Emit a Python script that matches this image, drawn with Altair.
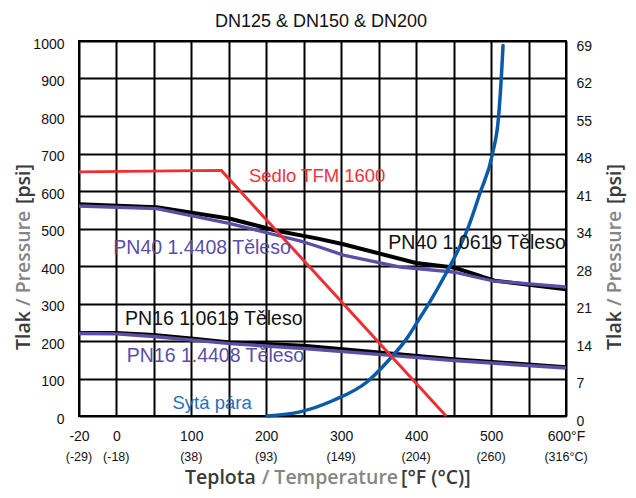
import altair as alt
import pandas as pd

# ---------------- data ----------------
x_grid_values = [-20, 0, 50, 100, 150, 200, 250, 300, 350, 400, 450, 500, 550, 600]
x_label_values = [-20, 0, 100, 200, 300, 400, 500, 600]
x_label_texts = ["-20", "0", "100", "200", "300", "400", "500", "600°F"]
celsius_labels = ["(-29)", "(-18)", "(38)", "(93)", "(149)", "(204)", "(260)", "(316°C)"]
y_values = [0, 100, 200, 300, 400, 500, 600, 700, 800, 900, 1000]
bar_labels = ["0", "7", "14", "21", "28", "34", "41", "48", "55", "62", "69"]

red_F = [-20, 140, 440]
red_psi = [651, 655, 0]

pn40_10619_F = [-20, 54, 152, 214, 269, 303, 400, 450, 474, 490, 505, 600]
pn40_10619_psi = [565, 557, 526, 494, 473, 458, 408, 396, 381, 370, 361, 338]

pn40_14408_F = [-20, 54, 152, 214, 245, 269, 303, 379, 450, 476, 503, 600]
pn40_14408_psi = [560, 553, 513, 482, 467, 452, 429, 397, 384, 372, 360, 344]

pn16_10619_F = [-20, 0, 50, 103, 152, 250, 358, 450, 600]
pn16_10619_psi = [222, 222, 217, 207, 197, 188, 169, 152, 131]

pn16_14408_F = [-20, 0, 50, 152, 250, 358, 450, 600]
pn16_14408_psi = [220, 219, 212, 193, 180, 163, 148, 128]

steam_F = [201, 245, 290, 334, 364, 387, 403, 418, 436, 456, 468, 485, 502, 510, 514, 516]
steam_psi = [0, 11, 42, 90, 150, 205, 255, 303, 366, 442, 495, 593, 700, 797, 913, 988]

note_texts = ["Sedlo TFM 1600", "PN40 1.0619 Těleso", "PN40 1.4408 Těleso",
              "PN16 1.0619 Těleso", "PN16 1.4408 Těleso", "Sytá pára"]
note_F = [177, 363, -1.6, 11.7, 13.9, 75]
note_psi = [624, 446, 433, 242, 144, 20]
note_colors = ["#ee3338", "#111111", "#5a4ea5", "#111111", "#5a4ea5", "#2a6ebe"]
note_sizes = [18.5, 19.5, 19.5, 19.5, 19.5, 18.5]

RED = "#ee3035"
PURPLE = "#5a4ea5"
BLUE = "#0a5aaa"
DARK = "#3a3a3a"
GRAY = "#858585"
FONT = "Liberation Sans"
TFONT = "Open Sans"

W, H = 487, 375

# ---------------- scales / axes ----------------
xscale = alt.Scale(domain=[-20, 0, 600], range=[0, 37.3, W], nice=False, zero=False)
yscale = alt.Scale(domain=[0, 1000], nice=False, zero=False)

lbl_vals = "[" + ",".join(str(v) for v in x_label_values) + "]"
lbl_txts = "[" + ",".join("'" + t + "'" for t in x_label_texts) + "]"
xaxis = alt.Axis(
    values=x_grid_values, grid=True, gridColor="black", gridWidth=2, gridOpacity=1,
    domain=False, ticks=False, tickSize=0, title=None,
    labelExpr=f"indexof({lbl_vals}, datum.value) >= 0 ? {lbl_txts}[indexof({lbl_vals}, datum.value)] : ''",
    labelFont=FONT, labelFontSize=14, labelColor="#111111", labelPadding=13,
    labelFlush=False, labelOverlap=False,
)
X = alt.X("F:Q", scale=xscale, axis=xaxis)

yaxis_left = alt.Axis(
    values=y_values, grid=True, gridColor="black", gridWidth=2, gridOpacity=1,
    domain=False, ticks=False, tickSize=0, title=None, orient="left", format="d",
    labelFont=FONT, labelFontSize=14, labelColor="#111111", labelPadding=15,
    labelOffset=3, labelFlush=False, labelOverlap=False,
)
bar_arr = "[" + ",".join("'" + b + "'" for b in bar_labels) + "]"
yaxis_right = alt.Axis(
    values=y_values, grid=False, domain=False, ticks=False, tickSize=0, title=None,
    orient="right", labelExpr=f"{bar_arr}[round(datum.value/100)]",
    labelFont=FONT, labelFontSize=14, labelColor="#111111", labelPadding=10,
    labelOffset=5, labelFlush=False, labelOverlap=False,
)


def line_layer(F, psi, color, width, axis=None, interp="linear", cap="butt"):
    df = pd.DataFrame({"F": F, "psi": psi})
    return alt.Chart(df).mark_line(
        color=color, strokeWidth=width, interpolate=interp, strokeCap=cap, strokeJoin="round"
    ).encode(x=X, y=alt.Y("psi:Q", scale=yscale, axis=axis))


l_pn40b = line_layer(pn40_10619_F, pn40_10619_psi, "#000000", 4, axis=yaxis_left)
l_pn40p = line_layer(pn40_14408_F, pn40_14408_psi, PURPLE, 3.3, axis=yaxis_right)
l_pn16b = line_layer(pn16_10619_F, pn16_10619_psi, "#000000", 3.5)
l_pn16p = line_layer(pn16_14408_F, pn16_14408_psi, PURPLE, 3.5)
l_steam = line_layer(steam_F, steam_psi, BLUE, 3.5, interp="monotone", cap="round")
l_red = line_layer(red_F, red_psi, RED, 3)

notes_df = pd.DataFrame({"F": note_F, "psi": note_psi, "t": note_texts,
                         "c": note_colors, "s": note_sizes})
notes = alt.Chart(notes_df).mark_text(
    font=FONT, align="left", baseline="alphabetic"
).encode(
    x=X, y=alt.Y("psi:Q", scale=yscale, axis=None), text="t:N",
    color=alt.Color("c:N", scale=None),
    size=alt.Size("s:Q", scale=None),
)

cel_df = pd.DataFrame({"F": x_label_values, "t": celsius_labels})
celsius = alt.Chart(cel_df).mark_text(
    font=FONT, fontSize=12.5, align="center", baseline="alphabetic", color="#111111"
).encode(x=X, y=alt.value(420), text="t:N")


def label(txt, x, y, color, size, font=TFONT, weight=600, angle=0, align="left"):
    return alt.Chart(pd.DataFrame({"t": [txt]})).mark_text(
        font=font, fontSize=size, fontWeight=weight, color=color, align=align,
        baseline="alphabetic", angle=angle,
    ).encode(x=alt.value(x), y=alt.value(y), text="t:N")


title = label("DN125 & DN150 & DN200", 242, -14, "#111111", 18, font=FONT, weight=400, align="center")

texts = [title]
for xb in (-49, 542):
    texts += [
        label("Tlak", xb, 309, DARK, 19.5, angle=270),
        label("/ Pressure", xb, 265, GRAY, 19.5, angle=270),
        label("[psi]", xb, 163, DARK, 19.5, angle=270),
    ]
texts += [
    label("Teplota", 106, 443, DARK, 19.5),
    label("/ Temperature", 182.7, 443, GRAY, 19.5),
    label("[°F (°C)]", 322, 443, DARK, 19.5),
]

chart = alt.layer(
    l_pn40b, l_pn40p, l_pn16b, l_pn16p, l_steam, l_red, notes, celsius, *texts
).resolve_scale(y="independent").properties(
    width=W, height=H,
    autosize=alt.AutoSizeParams(type="none"),
    padding={"left": 71, "top": 33, "right": 62, "bottom": 74},
    background="white",
).configure_view(stroke="black", strokeWidth=2)

chart.save("out.html", embed_options={"renderer": "svg", "actions": False})
